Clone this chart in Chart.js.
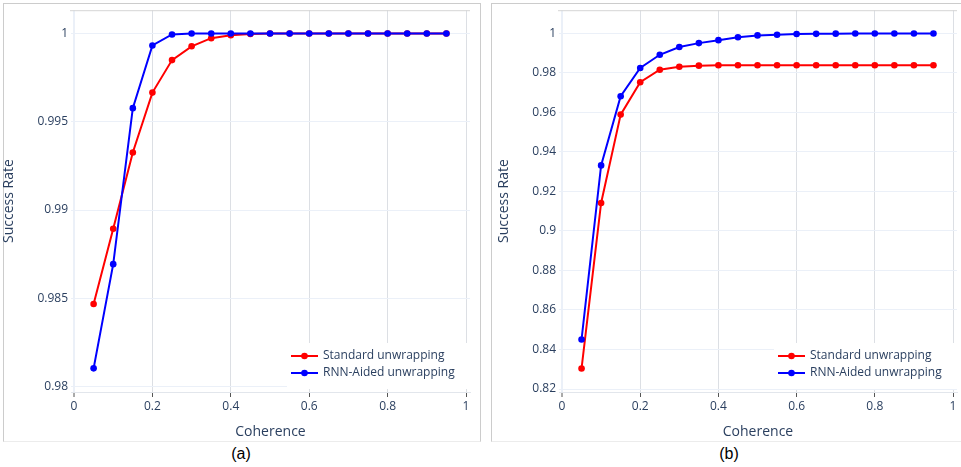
<!DOCTYPE html>
<html lang="en">
<head>
  <meta charset="UTF-8" />
  <title>Success Rate vs Coherence</title>
  <script src="https://cdn.jsdelivr.net/npm/chart.js"></script>
  <style>
    body { margin: 0; background: white; width: 961px; height: 467px; position: relative; overflow: hidden; }
    .panel { position: absolute; top: 3px; height: 437px; border: 1px solid #cccccc; border-bottom-color: #ececec; }
    canvas { position: absolute; top: 0; }
    .caption { position: absolute; top: 445px; width: 60px; text-align: center; font-family: "Liberation Sans", Arial, sans-serif; font-size: 16px; color: #000; }
  </style>
</head>
<body>

  <div class="panel" style="left: 3px; width: 476px;"></div>
  <div class="panel" style="left: 491px; width: 476px;"></div>

  <canvas id="chartA" width="480" height="441" style="left: 0px;"></canvas>
  <canvas id="chartB" width="480" height="441" style="left: 481px;"></canvas>

  <div class="caption" style="left: 211px;">(a)</div>
  <div class="caption" style="left: 699px;">(b)</div>

  <script>
    // values
    const coherence = [0.05, 0.1, 0.15, 0.2, 0.25, 0.3, 0.35, 0.4, 0.45, 0.5,
                       0.55, 0.6, 0.65, 0.7, 0.75, 0.8, 0.85, 0.9, 0.95];
    const seriesLabels = ["Standard unwrapping", "RNN-Aided unwrapping"];
    const seriesColors = ["#ff0000", "#0000ff"];

    // panel (a)
    const standardA = [0.98468, 0.98894, 0.99326, 0.99665, 0.99849, 0.99927, 0.99973, 0.9999, 0.99997, 1,
                       1, 1, 1, 1, 1, 1, 1, 1, 1];
    const rnnA = [0.98104, 0.98694, 0.99577, 0.99932, 0.99994, 1, 1, 1, 1, 1,
                  1, 1, 1, 1, 1, 1, 1, 1, 1];

    // panel (b)
    const standardB = [0.8304, 0.9142, 0.9589, 0.9753, 0.9816, 0.9831, 0.9837, 0.9839, 0.9839, 0.9839,
                       0.9839, 0.9839, 0.9839, 0.9839, 0.9839, 0.9839, 0.9839, 0.9839, 0.9839];
    const rnnB = [0.8451, 0.9332, 0.9682, 0.9825, 0.9892, 0.9931, 0.9951, 0.9966, 0.9981, 0.999,
                  0.9993, 0.9997, 0.9998, 0.9999, 1, 1, 1, 1, 1];

    const xTicks = [0, 0.2, 0.4, 0.6, 0.8, 1];
    const yTicksA = [0.98, 0.985, 0.99, 0.995, 1];
    const yTicksB = [0.82, 0.84, 0.86, 0.88, 0.9, 0.92, 0.94, 0.96, 0.98, 1];

    const textColor = "#2a3f5f";
    const fontFamily = "'Open Sans', Verdana, Arial, sans-serif";

    // legend box inside the plot, bottom right, plus the thin top frame line
    const framePlugin = {
      id: "frame",
      beforeDatasetsDraw(chart) {
        const { ctx, chartArea } = chart;
        ctx.save();
        ctx.strokeStyle = "#d6d6d6";
        ctx.lineWidth = 1;
        ctx.beginPath();
        ctx.moveTo(chartArea.left - 1, chartArea.top + 0.5);
        ctx.lineTo(chartArea.right, chartArea.top + 0.5);
        ctx.stroke();
        ctx.restore();
      },
      afterDraw(chart) {
        const { ctx, chartArea } = chart;
        const r = chartArea.right, b = chartArea.bottom;
        ctx.save();
        ctx.fillStyle = "white";
        ctx.fillRect(r - 183, b - 49, 183, 46);
        chart.data.datasets.forEach((ds, i) => {
          const y = b - 36 + i * 17;
          ctx.strokeStyle = ds.borderColor;
          ctx.lineWidth = 2;
          ctx.beginPath();
          ctx.moveTo(r - 179, y);
          ctx.lineTo(r - 152, y);
          ctx.stroke();
          ctx.fillStyle = ds.borderColor;
          ctx.beginPath();
          ctx.arc(r - 165.5, y, 3.3, 0, Math.PI * 2);
          ctx.fill();
          ctx.fillStyle = textColor;
          ctx.font = "12px " + fontFamily;
          ctx.textBaseline = "middle";
          ctx.fillText(ds.label, r - 147, y);
        });
        ctx.restore();
      }
    };

    function makeChart(id, stdVals, rnnVals, yTicks, yMin, yMax, padLeft, yWidth, padRight, titlePad) {
      const ctx = document.getElementById(id).getContext("2d");
      return new Chart(ctx, {
        type: "line",
        data: {
          datasets: [
            {
              label: seriesLabels[0],
              data: coherence.map((c, i) => ({ x: c, y: stdVals[i] })),
              borderColor: seriesColors[0],
              backgroundColor: seriesColors[0],
              borderWidth: 2,
              pointRadius: 3.3,
              pointBorderWidth: 0,
              order: 2
            },
            {
              label: seriesLabels[1],
              data: coherence.map((c, i) => ({ x: c, y: rnnVals[i] })),
              borderColor: seriesColors[1],
              backgroundColor: seriesColors[1],
              borderWidth: 2,
              pointRadius: 3.3,
              pointBorderWidth: 0,
              order: 1
            }
          ]
        },
        options: {
          responsive: false,
          animation: false,
          devicePixelRatio: 1,
          layout: { padding: { left: padLeft, right: padRight, top: 9, bottom: 0 } },
          plugins: { legend: { display: false }, tooltip: { enabled: false } },
          scales: {
            x: {
              type: "linear",
              min: -0.0077,
              max: 1.0102,
              afterBuildTicks: s => { s.ticks = xTicks.map(v => ({ value: v })); },
              afterFit: s => { s.height = 49; },
              ticks: {
                color: textColor,
                font: { family: fontFamily, size: 12 },
                padding: 2,
                maxRotation: 0,
                callback: v => String(Number(v.toFixed(3)))
              },
              grid: {
                color: c => c.tick && c.tick.value === 0 ? "#ebf0f8" : "#dcdfe4",
                lineWidth: c => c.tick && c.tick.value === 0 ? 2 : 1,
                tickColor: "#555",
                tickWidth: 1,
                tickLength: 5
              },
              border: { color: "#e2e6ec" },
              title: {
                display: true,
                text: "Coherence",
                color: textColor,
                font: { family: fontFamily, size: 14 },
                padding: { top: 0, bottom: 1 }
              }
            },
            y: {
              type: "linear",
              min: yMin,
              max: yMax,
              afterBuildTicks: s => { s.ticks = yTicks.map(v => ({ value: v })); },
              afterFit: s => { s.width = yWidth; },
              ticks: {
                color: textColor,
                font: { family: fontFamily, size: 12 },
                padding: 3,
                callback: v => String(Number(v.toFixed(4)))
              },
              grid: { color: "#ebf0f8", lineWidth: 1, drawTicks: false },
              border: { display: false },
              title: {
                display: true,
                text: "Success Rate",
                color: textColor,
                font: { family: fontFamily, size: 14 },
                padding: { top: titlePad, bottom: 0 }
              }
            }
          }
        },
        plugins: [framePlugin]
      });
    }

    makeChart("chartA", standardA, rnnA, yTicksA, 0.979701, 1.001315, 0, 71, 10, 1);
    makeChart("chartB", standardB, rnnB, yTicksB, 0.81849, 1.01176, 14, 64, 3, 1);
  </script>

</body>
</html>
